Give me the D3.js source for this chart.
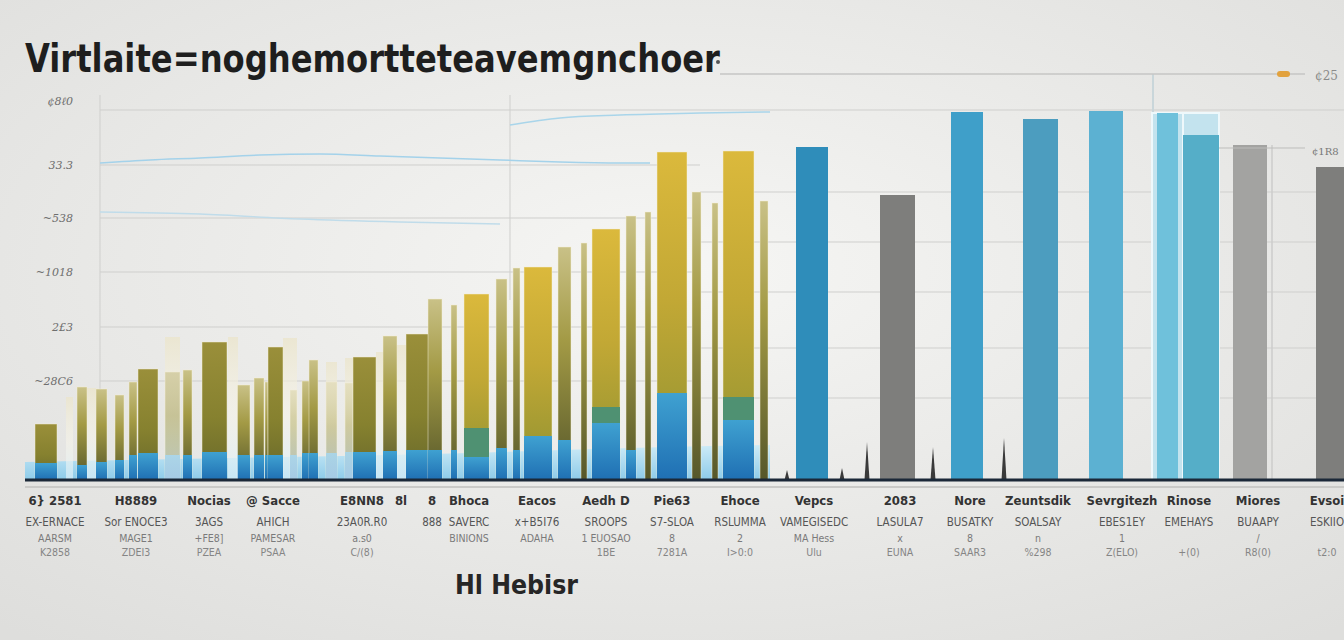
<!DOCTYPE html>
<meta charset="utf-8">
<script src="https://d3js.org/d3.v7.min.js"></script>
<style>
  body { margin: 0; background: #ececea; }
  svg { display: block; }
</style>
<div id="chart"></div>
<script>
// ---- values (x in slot units, heights in value units) ----

// olive / gold columns on the left half
const oliveStart = [1, 9.4, 13.2, 17, 19.8, 21.6, 27, 30.6, 34.4, 41.4, 44.8, 47, 47.6, 52, 54.4, 55.8, 59.2, 63, 64.6, 70.6, 75.2, 79.6, 84.2, 86.8, 93.2, 96.6, 98.8, 105.6, 110.2, 112.4, 119.2, 123, 125.4, 132.4, 136.4, 138.6, 146];
const oliveEnd   = [5.4, 11.4, 15.4, 18.8, 21.4, 25.6, 30, 32.4, 39.4, 44, 46.8, 47.6, 50.6, 53.4, 56, 57.6, 61.4, 64.6, 69.2, 73.4, 80, 82.4, 85.4, 91.8, 95.4, 98, 104.4, 108.2, 111.4, 118, 121.2, 124.2, 131.4, 134.2, 137.6, 144.8, 147.6];
const oliveValue = [11.2, 18.6, 18.2, 17, 19.6, 22.2, 21.6, 22, 27.6, 19, 20.4, 19.6, 26.6, 18, 19.8, 24, 19.6, 19.4, 24.6, 28.8, 29.2, 36.2, 35, 37.2, 40.2, 42.4, 42.6, 46.6, 47.4, 50.2, 52.8, 53.6, 65.6, 57.6, 55.4, 65.8, 55.8];
const blueValue  = [3.4, 3, 3.6, 4, 5, 5.4, 5, 5, 5.6, 5, 5, 5, 5, 5, 5.4, 5.4, 5.4, 5.6, 5.6, 5.8, 6, 6, 6, 4.6, 6.4, 6, 8.8, 8, 0, 11.4, 6, 0, 17.4, 0, 0, 12, 0];
const greenValue = [0, 0, 0, 0, 0, 0, 0, 0, 0, 0, 0, 0, 0, 0, 0, 0, 0, 0, 0, 0, 0, 0, 0, 10.4, 0, 0, 0, 0, 0, 14.6, 0, 0, 0, 0, 0, 16.6, 0];

// pale glassy columns in front of the olive ones
const ghostStart = [7.2, 11.4, 27, 39.6, 50.6, 59.2, 63, 69.2, 73.4];
const ghostEnd   = [8.6, 13.2, 30, 41.6, 53.4, 61.4, 64.6, 70.6, 75.2];
const ghostValue = [16.6, 18.4, 28.6, 28.6, 28.4, 23.6, 24.4, 25.6, 27];

// big columns on the right half
const rightStart  = [153.2, 170, 184.2, 198.6, 211.8, 224.4, 225.4, 230.6, 230.6, 240.6, 257.2];
const rightEnd    = [159.6, 177, 190.6, 205.6, 218.6, 230.6, 229.6, 237.8, 237.8, 247.4, 262.8];
const rightValue  = [66.6, 57, 73.6, 72.2, 73.8, 73.4, 73.4, 73.4, 69, 67, 62.6];
const rightSeries = ["deep", "slate", "sky", "steel", "light", "pale", "aqua", "pale", "aqua2", "silver", "slate"];
const seriesNames = ["deep", "slate", "sky", "steel", "light", "pale", "aqua", "aqua2", "silver"];

// little spikes on the baseline
const spikePos   = [151.4, 162.4, 167.4, 180.6, 194.8];
const spikeValue = [2, 2.4, 7.6, 6.6, 8.4];

// faint light-blue lines
const trendAx = [14, 24, 34, 46, 58, 70, 82, 94, 106, 118, 124];
const trendAy = [63.4, 64, 64.4, 65, 65.2, 64.8, 64.4, 64, 63.6, 63.4, 63.4];
const trendBx = [14, 34, 54, 74, 94];
const trendBy = [53.6, 53.2, 52.2, 51.6, 51.2];
const trendCx = [96, 106, 118, 134, 148];
const trendCy = [71, 72.4, 73, 73.4, 73.6];

// light cyan ground under the left columns
const groundX = [-1, 40, 80, 120, 148];
const groundY = [3.6, 4.4, 5.2, 6.4, 7];

// axes
const leftTicks = [19.8, 30.6, 41.6, 52.4, 63, 74];
const leftTickLabels = ["~28C6", "2£3", "~1018", "~538", "33.3", "¢8ℓ0"];
const rightTicks = [16.4, 26.4, 37.6, 47.6, 57.6];

// category labels under the axis
const labelPos = [5, 21.2, 35.8, 48.6, 66.4, 74.2, 80.4, 87.8, 101.4, 115.2, 128.4, 142, 156.8, 174, 188, 201.6, 218.4, 231.8, 245.6, 259.4];
const labelRow1 = ["6} 2581", "H8889", "Nocias", "@ Sacce", "E8NN8", "8l", "8", "Bhoca", "Eacos", "Aedh D", "Pie63", "Ehoce", "Vepcs", "2083", "Nore", "Zeuntsdik", "Sevrgitezh", "Rinose", "Miores", "Evsoi"];
const labelRow2 = ["EX-ERNACE", "Sor ENOCE3", "3AGS", "AHICH", "23A0R.R0", "", "888", "SAVERC", "x+B5I76", "SROOPS", "S7-SLOA", "RSLUMMA", "VAMEGISEDC", "LASULA7", "BUSATKY", "SOALSAY", "EBES1EY", "EMEHAYS", "BUAAPY", "ESKIIO"];
const labelRow3 = ["AARSM", "MAGE1", "+FE8]", "PAMESAR", "a.s0", "", "", "BINIONS", "ADAHA", "1 EUOSAO", "8", "2", "MA Hess", "x", "8", "n", "1", "", "/", ""];
const labelRow4 = ["K2858", "ZDEI3", "PZEA", "PSAA", "C/(8)", "", "", "", "", "1BE", "7281A", "I>0:0", "Ulu", "EUNA", "SAAR3", "%298", "Z(ELO)", "+(0)", "R8(0)", "t2:0"];

const titleText = "Virtlaite=noghemortteteavemgnchoer";
const xTitle = "Hl Hebisr";

// ---- drawing ----
const W = 1344, H = 640;

const svg = d3.select("#chart")
  .append("svg")
    .attr("width", W)
    .attr("height", H);

const defs = svg.append("defs");

// background vignette
const bg = defs.append("radialGradient").attr("id", "bg")
  .attr("cx", "50%").attr("cy", "42%").attr("r", "75%");
bg.append("stop").attr("offset", "0%").attr("stop-color", "#f6f6f4");
bg.append("stop").attr("offset", "100%").attr("stop-color", "#dededc");

function vGrad(id, stops) {
  const g = defs.append("linearGradient").attr("id", id)
    .attr("x1", 0).attr("y1", 0).attr("x2", 0).attr("y2", 1);
  stops.forEach(s => g.append("stop")
    .attr("offset", s[0]).attr("stop-color", s[1])
    .attr("stop-opacity", s[2] == null ? 1 : s[2]));
}
vGrad("olive", [["0%", "#9a8f3a"], ["55%", "#86812f"], ["100%", "#66672a"]]);
vGrad("gold",  [["0%", "#dbb93c"], ["45%", "#c2a835"], ["100%", "#8d9131"]]);
vGrad("slim",  [["0%", "#c9c187"], ["40%", "#a39a45"], ["100%", "#55572a"]]);
vGrad("blue",  [["0%", "#3fa1d1"], ["100%", "#1f6fb3"]]);
vGrad("ghost", [["0%", "#ebe5cc", 0.8], ["55%", "#f7f5ea", 0.55], ["100%", "#dff2fb", 0.7]]);
vGrad("ground", [["0%", "#cdebf7"], ["100%", "#8dcbe9"]]);

svg.append("rect").attr("width", W).attr("height", H).attr("fill", "url(#bg)");

const x = d3.scaleLinear().domain([0, 262.8]).range([30, 1344]);
const y = d3.scaleLinear().domain([0, 74]).range([480, 110]);

const color = d3.scaleOrdinal()
  .domain(seriesNames)
  .range(["#2f8dba", "#7e7e7c", "#3f9fc9", "#4c9dbf", "#5cb1d2", "#c3e3ee", "#6fc1db", "#55aec8", "#a3a3a1"]);

// grid
const grid = svg.append("g").attr("stroke", "#cfcfcd").attr("stroke-width", 1);
grid.selectAll(".gl").data(leftTicks.slice(0, 5)).join("line")
  .attr("x1", x(14)).attr("x2", x(134))
  .attr("y1", d => y(d)).attr("y2", d => y(d));
grid.selectAll(".gr").data(rightTicks).join("line")
  .attr("x1", x(134)).attr("x2", W)
  .attr("y1", d => y(d)).attr("y2", d => y(d));
grid.append("line")
  .attr("x1", x(14)).attr("x2", W)
  .attr("y1", y(74)).attr("y2", y(74));
grid.append("line")
  .attr("x1", x(14)).attr("x2", x(14))
  .attr("y1", y(77)).attr("y2", y(0));
grid.append("line")
  .attr("x1", x(96)).attr("x2", x(96))
  .attr("y1", y(77)).attr("y2", y(36));

// faint trend lines
const line = d3.line().curve(d3.curveMonotoneX);
[[trendAx, trendAy, "#a4d2ea"], [trendBx, trendBy, "#c0dcea"], [trendCx, trendCy, "#a9d5ea"]]
  .forEach(([xs, ys, c]) => {
    svg.append("path")
      .attr("d", line(xs.map((v, i) => [x(v), y(ys[i])])))
      .attr("fill", "none")
      .attr("stroke", c)
      .attr("stroke-width", 1.5);
  });

// left axis labels
const yAxis = svg.append("g")
  .attr("transform", `translate(${x(8.6)},0)`)
  .call(d3.axisLeft(y).tickValues(leftTicks)
    .tickFormat((d, i) => leftTickLabels[i]).tickSize(0).tickPadding(0));
yAxis.select(".domain").remove();
yAxis.selectAll("text")
  .attr("fill", "#6e6e6e")
  .style("font-family", "DejaVu Serif, serif")
  .style("font-style", "italic")
  .style("font-size", "11px")
  .attr("dy", (d, i) => i === leftTicks.length - 1 ? "-0.5em" : "0.32em");

// ground band
svg.append("path")
  .attr("d", d3.area().curve(d3.curveMonotoneX)
    .x(d => x(d[0])).y0(y(0)).y1(d => y(d[1]))(groundX.map((v, i) => [v, groundY[i]])))
  .attr("fill", "url(#ground)");

// olive columns
const olive = oliveStart.map((s, i) => ({
  s, e: oliveEnd[i], v: oliveValue[i], b: blueValue[i], g: greenValue[i]
}));
const og = svg.append("g").selectAll("g").data(olive).join("g");
og.append("rect")
  .attr("x", d => x(d.s)).attr("width", d => x(d.e) - x(d.s))
  .attr("y", d => y(d.v)).attr("height", d => y(0) - y(d.v))
  .attr("fill", d => (d.e - d.s) < 3 ? "url(#slim)" : (d.v > 35 ? "url(#gold)" : "url(#olive)"))
  .attr("stroke", "#f7f2d8").attr("stroke-opacity", 0.6).attr("stroke-width", 0.8);
og.filter(d => d.g > 0).append("rect")
  .attr("x", d => x(d.s)).attr("width", d => x(d.e) - x(d.s))
  .attr("y", d => y(d.g)).attr("height", d => y(0) - y(d.g))
  .attr("fill", "#4f9172");
og.filter(d => d.b > 0).append("rect")
  .attr("x", d => x(d.s)).attr("width", d => x(d.e) - x(d.s))
  .attr("y", d => y(d.b)).attr("height", d => y(0) - y(d.b))
  .attr("fill", "url(#blue)");

// glassy columns
svg.append("g").selectAll("rect")
  .data(ghostStart.map((s, i) => ({ s, e: ghostEnd[i], v: ghostValue[i] })))
  .join("rect")
    .attr("x", d => x(d.s)).attr("width", d => x(d.e) - x(d.s))
    .attr("y", d => y(d.v)).attr("height", d => y(0) - y(d.v))
    .attr("fill", "url(#ghost)");

// reference lines on the right
svg.append("line")
  .attr("x1", x(224.6)).attr("x2", x(224.6))
  .attr("y1", y(81.2)).attr("y2", y(0))
  .attr("stroke", "#c9d6da").attr("stroke-width", 2);
svg.append("line")
  .attr("x1", x(248.4)).attr("x2", x(248.4))
  .attr("y1", y(67)).attr("y2", y(0))
  .attr("stroke", "#cdcdcb").attr("stroke-width", 1.5);

// right columns
svg.append("g").selectAll("rect")
  .data(rightStart.map((s, i) => ({ s, e: rightEnd[i], v: rightValue[i], k: rightSeries[i] })))
  .join("rect")
    .attr("x", d => x(d.s)).attr("width", d => x(d.e) - x(d.s))
    .attr("y", d => y(d.v)).attr("height", d => y(0) - y(d.v))
    .attr("fill", d => color(d.k))
    .attr("stroke", d => d.k === "pale" ? "#eef8fb" : "none")
    .attr("stroke-width", 2);

// spikes
svg.append("g").selectAll("path")
  .data(spikePos.map((p, i) => [p, spikeValue[i]]))
  .join("path")
    .attr("d", d => `M${x(d[0] - 0.5)},${y(0)}L${x(d[0])},${y(d[1])}L${x(d[0] + 0.5)},${y(0)}Z`)
    .attr("fill", "#3a3a3a");

// top reference line with marker
svg.append("line")
  .attr("x1", x(138)).attr("x2", x(255))
  .attr("y1", y(81.2)).attr("y2", y(81.2))
  .attr("stroke", "#c6c6c4").attr("stroke-width", 1.5);
svg.append("rect")
  .attr("x", x(249.4)).attr("width", x(252) - x(249.4))
  .attr("y", y(81.2) - 3).attr("height", 6).attr("rx", 3)
  .attr("fill", "#e2a23e");
svg.append("line")
  .attr("x1", x(237.8)).attr("x2", x(255))
  .attr("y1", y(66.4)).attr("y2", y(66.4))
  .attr("stroke", "#bdbdbb").attr("stroke-width", 1);
svg.append("text")
  .attr("x", x(257)).attr("y", y(80))
  .attr("fill", "#8a8a8a")
  .style("font-family", "DejaVu Serif, serif").style("font-size", "12px")
  .text("¢25");
svg.append("text")
  .attr("x", x(256.4)).attr("y", y(65))
  .attr("fill", "#777")
  .style("font-family", "DejaVu Serif, serif").style("font-size", "10px")
  .text("¢1R8");

// baseline
svg.append("line")
  .attr("x1", x(-1)).attr("x2", W)
  .attr("y1", y(0) + 7).attr("y2", y(0) + 7)
  .attr("stroke", "#cacac8").attr("stroke-width", 2);
svg.append("line")
  .attr("x1", x(-1)).attr("x2", W)
  .attr("y1", y(0)).attr("y2", y(0))
  .attr("stroke", "#1b2838").attr("stroke-width", 3);

// category labels
const rows = [
  [labelRow1, 505, "13px", "#333", 600],
  [labelRow2, 526, "11.5px", "#555", 400],
  [labelRow3, 542, "10.5px", "#7a7a7a", 400],
  [labelRow4, 556, "10.5px", "#858585", 400]
];
rows.forEach(([texts, yy, fs, fill, fw]) => {
  svg.append("g").selectAll("text")
    .data(labelPos.map((p, i) => [p, texts[i]]).filter(d => d[1]))
    .join("text")
      .attr("x", d => x(d[0])).attr("y", yy)
      .attr("text-anchor", "middle")
      .attr("fill", fill)
      .style("font-family", "DejaVu Sans Condensed, Liberation Sans Narrow, sans-serif")
      .style("font-size", fs)
      .style("font-weight", fw)
      .text(d => d[1]);
});

// x title
svg.append("text")
  .attr("x", 455).attr("y", 594)
  .attr("textLength", 123).attr("lengthAdjust", "spacingAndGlyphs")
  .attr("fill", "#262626")
  .style("font-family", "DejaVu Sans Condensed, sans-serif")
  .style("font-size", "27px").style("font-weight", "bold")
  .text(xTitle);

// title
svg.append("text")
  .attr("x", 25).attr("y", 72)
  .attr("textLength", 695).attr("lengthAdjust", "spacingAndGlyphs")
  .attr("fill", "#1e1e1e")
  .style("font-family", "DejaVu Sans Condensed, sans-serif")
  .style("font-size", "39px").style("font-weight", "bold")
  .text(titleText);
svg.append("circle").attr("cx", 718).attr("cy", 62).attr("r", 2).attr("fill", "#555");
</script>
